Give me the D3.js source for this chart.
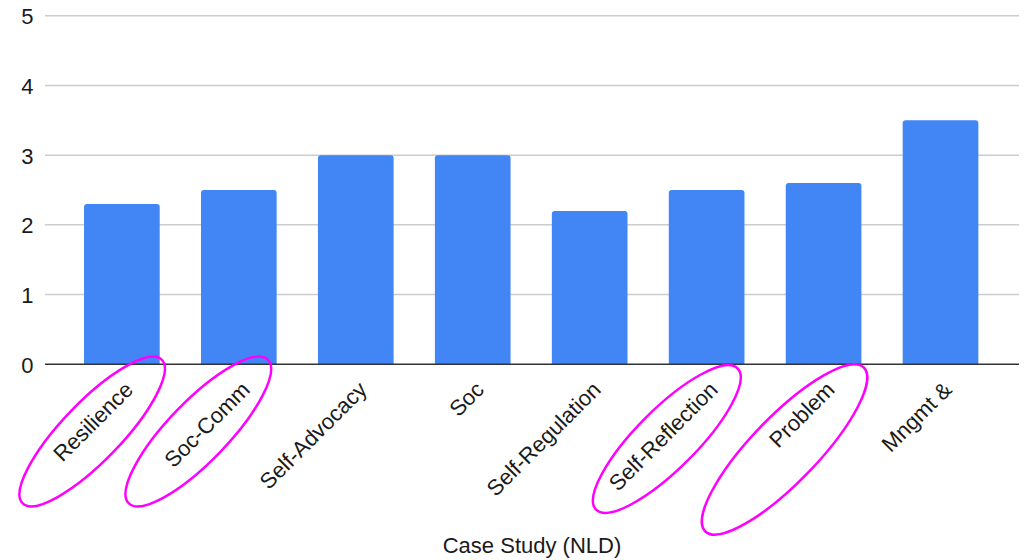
<!DOCTYPE html>
<html>
<head>
<meta charset="utf-8">
<script src="https://cdn.jsdelivr.net/npm/d3@7"></script>
<style>
  html, body { margin: 0; padding: 0; background: #fff; }
  svg { display: block; font-family: Arial, "Liberation Sans", sans-serif; }
</style>
</head>
<body>
<svg id="chart" width="1025" height="560"></svg>
<script>
// Case-study scores per skill area
const categories = ["Resilience", "Soc-Comm", "Self-Advocacy", "Soc", "Self-Regulation", "Self-Reflection", "Problem", "Mngmt &"];
const scores = [2.3, 2.5, 3.0, 3.0, 2.2, 2.5, 2.6, 3.5];
const yTicks = [0, 1, 2, 3, 4, 5];
const xTitle = "Case Study (NLD)";
// skill areas circled by hand
const circled = ["Resilience", "Soc-Comm", "Self-Reflection", "Problem"];

const svg = d3.select("#chart");
const fontSize = "22px";

const x = d3.scaleBand()
  .domain(categories)
  .range([63.4, 999])
  .paddingInner(0.353)
  .paddingOuter(0.1765);

const y = d3.scaleLinear().domain([0, 5]).range([364.3, 15.7]);

const gridLeft = 45, gridRight = 1019;

// horizontal gridlines
svg.append("g")
  .selectAll("line")
  .data(yTicks.filter(d => d !== 0))
  .join("line")
  .attr("x1", gridLeft).attr("x2", gridRight)
  .attr("y1", d => y(d)).attr("y2", d => y(d))
  .attr("stroke", "#cccccc")
  .attr("stroke-width", 1.5);

// y-axis tick labels
const yAxis = d3.axisLeft(y).tickValues(yTicks).tickSize(0).tickPadding(0).tickFormat(d3.format("d"));
const gy = svg.append("g").attr("transform", "translate(33.5,0)").call(yAxis);
gy.select(".domain").remove();
gy.selectAll("text")
  .attr("font-size", fontSize)
  .attr("font-family", "Arial, 'Liberation Sans', sans-serif")
  .attr("fill", "#1a1a1a")
  .attr("dy", "0.36em");

// bars with rounded top corners
const r = 3;
function barPath(d, i) {
  const x0 = x(categories[i]);
  const w = x.bandwidth();
  const top = y(d), base = y(0);
  return `M${x0},${base}V${top + r}Q${x0},${top} ${x0 + r},${top}H${x0 + w - r}Q${x0 + w},${top} ${x0 + w},${top + r}V${base}Z`;
}
svg.append("g")
  .selectAll("path")
  .data(scores)
  .join("path")
  .attr("d", barPath)
  .attr("fill", "#4285f4");

// baseline at zero
svg.append("line")
  .attr("x1", gridLeft).attr("x2", gridRight)
  .attr("y1", y(0)).attr("y2", y(0))
  .attr("stroke", "#333")
  .attr("stroke-width", 1.5);

// rotated category labels
const xAxis = d3.axisBottom(x).tickSize(0).tickPadding(0);
const gx = svg.append("g").call(xAxis);
gx.select(".domain").remove();
gx.selectAll(".tick").attr("transform", d => `translate(${x(d) + x.bandwidth() / 2},0)`);
gx.selectAll("text")
  .attr("font-size", fontSize)
  .attr("font-family", "Arial, 'Liberation Sans', sans-serif")
  .attr("fill", "#1a1a1a")
  .attr("text-anchor", "end")
  .attr("y", null).attr("dy", null)
  .attr("transform", "translate(12.5,391) rotate(-45)");

// axis title
svg.append("text")
  .attr("x", (gridLeft + gridRight) / 2)
  .attr("y", 552.5)
  .attr("text-anchor", "middle")
  .attr("font-size", fontSize)
  .attr("fill", "#1a1a1a")
  .text(xTitle);

// hand-drawn ovals around selected labels
const ovalShape = {
  "Resilience":      { dx: -29.7, cy: 431.5, rx: 100, ry: 29.5, rot: -46 },
  "Soc-Comm":        { dx: -40.5, cy: 431.5, rx: 100, ry: 30,   rot: -46 },
  "Self-Reflection": { dx: -39.8, cy: 439,   rx: 100, ry: 30,   rot: -45 },
  "Problem":         { dx: -39,   cy: 449.5, rx: 114, ry: 33,   rot: -46 }
};
svg.append("g")
  .selectAll("ellipse")
  .data(circled)
  .join("ellipse")
  .attr("transform", d => {
    const s = ovalShape[d];
    const cx = x(d) + x.bandwidth() / 2 + s.dx;
    return `translate(${cx},${s.cy}) rotate(${s.rot})`;
  })
  .attr("rx", d => ovalShape[d].rx)
  .attr("ry", d => ovalShape[d].ry)
  .attr("fill", "none")
  .attr("stroke", "#ff00ff")
  .attr("stroke-width", 2.5);
</script>
</body>
</html>
